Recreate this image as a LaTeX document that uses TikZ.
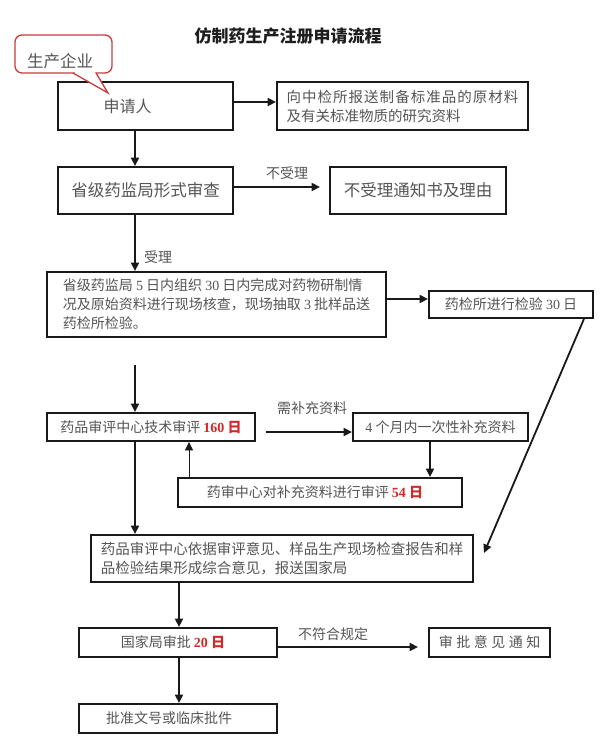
\documentclass[tikz,border=0pt]{standalone}
\usepackage{fontspec}
\setmainfont{Noto Sans CJK SC}
\newfontfamily\latinf{Liberation Serif}
\usetikzlibrary{arrows.meta}
\definecolor{txt}{RGB}{85,85,85}
\definecolor{titlec}{RGB}{30,30,30}
\definecolor{redtxt}{RGB}{210,40,40}
\definecolor{callred}{RGB}{200,60,60}
\newcommand\fz[2]{\fontsize{#1}{#2}\selectfont}
\newcommand\dg[1]{{\latinf #1}}
\newcommand\rdays[1]{\textcolor{redtxt}{\bfseries\dg{#1} 日}}
\begin{document}
\begin{tikzpicture}[x=1pt,y=-1pt,
  box/.style={draw=black!90,line width=1.9pt,inner sep=0pt,text=txt,font=\fz{14}{19}},
  lbl/.style={text=txt,font=\fz{14}{17},inner sep=0pt},
  arr/.style={draw=black!90,line width=1.8pt,-{Triangle[length=8.5pt,width=8pt]}},
  callout/.style={draw=callred,line width=1.3pt}
]
\useasboundingbox[fill=white] (0,0) rectangle (600,751);

% title
\node[font=\fz{17}{20}\bfseries,text=titlec] (title) at (288,36) {仿制药生产注册申请流程};

% boxes
\node[box,minimum width=175pt,minimum height=48pt,font=\fz{16}{19}] (sq) at (145.5,106) {申请人\hspace*{36pt}};
\node[box,minimum width=251pt,minimum height=48pt,align=left,font=\fz{14.5}{19}] (xz) at (402.5,106)
  {{\addfontfeature{LetterSpace=7}向中检所报送制备标准品的原材料}\\及有关标准物质的研究资料};
\node[box,minimum width=175pt,minimum height=47pt,font=\fz{16.5}{19}] (xs) at (145.5,190.5) {省级药监局形式审查};
\node[box,minimum width=176pt,minimum height=47pt,font=\fz{16.5}{19}] (bs) at (418,190.5) {不受理通知书及理由};
\node[box,minimum width=339pt,minimum height=65pt,align=left] (big) at (216.5,304.5)
  {省级药监局 \dg{5} 日内组织 \dg{30} 日内完成对药物研制情\\况及原始资料进行现场核查，现场抽取 \dg{3} 批样品送\\药检所检验。};
\node[box,minimum width=164pt,minimum height=27pt] (yj) at (511,304.5) {药检所进行检验 \dg{30} 日};
\node[box,minimum width=208pt,minimum height=28pt] (js) at (151,427) {药品审评中心技术审评 \rdays{160}};
\node[box,minimum width=175pt,minimum height=28pt] (bc) at (440.5,427) {\dg{4} 个月内一次性补充资料};
\node[box,minimum width=284pt,minimum height=29pt] (sz) at (320,492.5) {药审中心对补充资料进行审评 \rdays{54}\hspace*{10pt}};
\node[box,minimum width=382pt,minimum height=47pt,align=left,font=\fz{14.5}{19}] (fin) at (282,558.5)
  {药品审评中心依据审评意见、样品生产现场检查报告和样\\品检验结果形成综合意见，报送国家局};
\node[box,minimum width=198pt,minimum height=29pt] (gj) at (178,642.5) {国家局审批 \rdays{20}\hspace*{10pt}};
\node[box,minimum width=121pt,minimum height=29pt] (tz) at (489.5,642.5) {审\hspace{3.5pt}批\hspace{3.5pt}意\hspace{3.5pt}见\hspace{3.5pt}通\hspace{3.5pt}知};
\node[box,minimum width=198pt,minimum height=29pt] (pz) at (178,718.5) {批准文号或临床批件\hspace*{18pt}};

% labels
\node[lbl] (lb1) at (287,173) {不受理};
\node[lbl] (lb2) at (158,257) {受理};
\node[lbl] (lb3) at (312,408) {需补充资料};
\node[lbl] (lb4) at (333,634) {不符合规定};

% callout
\draw[callout,fill=white,rounded corners=7pt] (15,35) rectangle (112,73);
\fill[white] (74.5,71.3) rectangle (95,74.7);
\fill[white] (73,73) -- (108,93) -- (96,73) -- cycle;
\draw[callout,line join=miter] (73,73) -- (108,93) -- (96,73);
\node[font=\fz{16.5}{19},text=txt] (qy) at (60,61) {生产企业};

% free ends
\coordinate (v1) at (135,365);
\coordinate (d1) at (484,553);

% connectors
\draw[arr] (sq.east |- 0,102) -- (xz.west |- 0,102);
\draw[arr] (sq.south -| 135,0) -- (xs.north -| 135,0);
\draw[arr] (xs.east |- 0,187) -- ([xshift=-9pt]bs.west |- 0,187);
\draw[arr] (xs.south -| 135,0) -- (big.north -| 135,0);
\draw[arr] (big.east |- 0,299) -- (yj.west |- 0,299);
\draw[arr] ([xshift=-10pt]yj.south east) -- (d1);
\draw[arr] (v1) -- (js.north -| 135,0);
\draw[arr] ([xshift=10pt]js.east |- 0,432) -- (bc.west |- 0,432);
\draw[arr] (bc.south -| 430,0) -- (sz.north -| 430,0);
\draw[arr,line width=0.9pt] (sz.north -| 189,0) -- (js.south -| 189,0);
\draw[arr] (js.south -| 135,0) -- (fin.north -| 135,0);
\draw[arr] (fin.south -| 179,0) -- (gj.north -| 179,0);
\draw[arr] (gj.east |- 0,647) -- ([xshift=-10pt]tz.west |- 0,647);
\draw[arr] (gj.south -| 179,0) -- (pz.north -| 179,0);
\end{tikzpicture}
\end{document}
